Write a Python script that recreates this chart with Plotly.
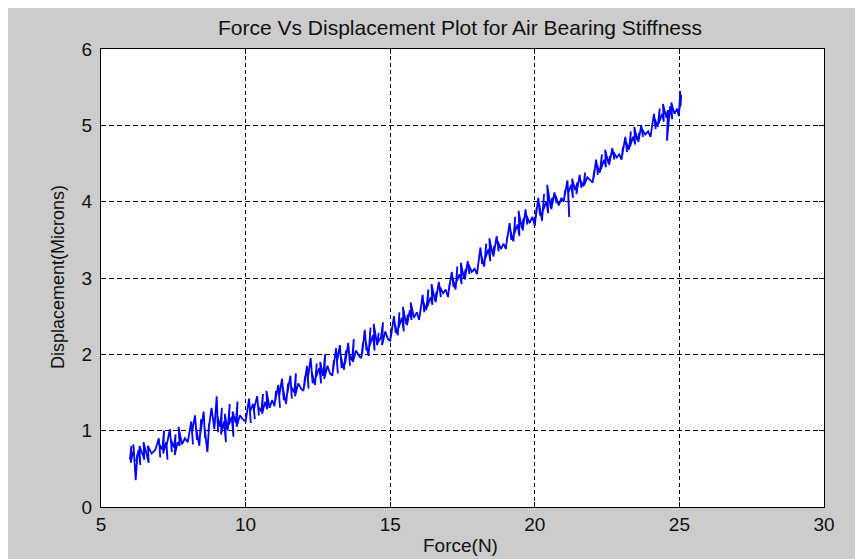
import plotly.graph_objects as go

# Force (N) values
force = [
    6.00, 6.05, 6.03, 6.10, 6.15, 6.12, 6.20, 6.26, 6.22, 6.30, 6.36, 6.33, 6.45, 6.50, 6.47, 6.58, 6.65, 6.62, 6.75, 6.88,
    7.00, 7.05, 7.02, 7.12, 7.18, 7.15, 7.25, 7.30, 7.27, 7.38, 7.45, 7.42, 7.52, 7.58, 7.55, 7.65, 7.72, 7.68, 7.80, 7.90,
    8.00, 8.06, 8.03, 8.12, 8.18, 8.15, 8.25, 8.32, 8.28, 8.40, 8.46, 8.43, 8.55, 8.60, 8.57, 8.68, 8.74, 8.71, 8.82, 8.92,
    9.00, 9.05, 9.02, 9.12, 9.18, 9.15, 9.25, 9.32, 9.28, 9.38, 9.45, 9.42, 9.52, 9.58, 9.55, 9.66, 9.72, 9.69, 9.80, 9.90,
    10.00, 10.06, 10.03, 10.12, 10.18, 10.15, 10.26, 10.32, 10.29, 10.40, 10.46, 10.43, 10.54, 10.60, 10.57, 10.68, 10.75, 10.72, 10.83, 10.92,
    11.00, 11.05, 11.02, 11.13, 11.19, 11.16, 11.26, 11.32, 11.29, 11.40, 11.47, 11.44, 11.55, 11.60, 11.57, 11.68, 11.74, 11.71, 11.82, 11.92,
    12.00, 12.06, 12.03, 12.12, 12.18, 12.15, 12.25, 12.32, 12.28, 12.40, 12.46, 12.43, 12.55, 12.61, 12.58, 12.68, 12.75, 12.72, 12.83, 12.92,
    13.00, 13.05, 13.02, 13.13, 13.19, 13.16, 13.26, 13.32, 13.29, 13.40, 13.47, 13.44, 13.55, 13.61, 13.58, 13.68, 13.74, 13.71, 13.82, 13.92,
    14.00, 14.06, 14.03, 14.12, 14.18, 14.15, 14.25, 14.32, 14.28, 14.40, 14.46, 14.43, 14.55, 14.60, 14.57, 14.68, 14.75, 14.72, 14.83, 14.92,
    15.00, 15.05, 15.02, 15.13, 15.19, 15.16, 15.26, 15.32, 15.29, 15.40, 15.47, 15.44, 15.55, 15.61, 15.58, 15.68, 15.74, 15.71, 15.82, 15.92,
    16.00, 16.06, 16.03, 16.12, 16.18, 16.15, 16.25, 16.32, 16.28, 16.40, 16.46, 16.43, 16.55, 16.60, 16.57, 16.68, 16.75, 16.72, 16.83, 16.92,
    17.00, 17.05, 17.02, 17.13, 17.19, 17.16, 17.26, 17.32, 17.29, 17.40, 17.47, 17.44, 17.55, 17.61, 17.58, 17.68, 17.74, 17.71, 17.82, 17.92,
    18.00, 18.06, 18.03, 18.12, 18.18, 18.15, 18.25, 18.32, 18.28, 18.40, 18.46, 18.43, 18.55, 18.60, 18.57, 18.68, 18.75, 18.72, 18.83, 18.92,
    19.00, 19.05, 19.02, 19.13, 19.19, 19.16, 19.26, 19.32, 19.29, 19.40, 19.47, 19.44, 19.55, 19.61, 19.58, 19.68, 19.74, 19.71, 19.82, 19.92,
    20.00, 20.06, 20.03, 20.12, 20.18, 20.15, 20.25, 20.32, 20.28, 20.40, 20.46, 20.43, 20.55, 20.60, 20.57, 20.68, 20.75, 20.72, 20.83, 20.92,
    21.00, 21.05, 21.02, 21.13, 21.19, 21.16, 21.26, 21.32, 21.29, 21.40, 21.47, 21.44, 21.55, 21.61, 21.58, 21.68, 21.74, 21.71, 21.82, 21.92,
    22.00, 22.06, 22.03, 22.12, 22.18, 22.15, 22.25, 22.32, 22.28, 22.40, 22.46, 22.43, 22.55, 22.60, 22.57, 22.68, 22.75, 22.72, 22.83, 22.92,
    23.00, 23.05, 23.02, 23.13, 23.19, 23.16, 23.26, 23.32, 23.29, 23.40, 23.47, 23.44, 23.55, 23.61, 23.58, 23.68, 23.74, 23.71, 23.82, 23.92,
    24.00, 24.06, 24.03, 24.12, 24.18, 24.15, 24.25, 24.32, 24.28, 24.40, 24.46, 24.43, 24.55, 24.60, 24.57, 24.68, 24.75, 24.72, 24.83, 24.92,
    24.98, 25.03, 25.00, 25.06, 25.04,
]

# Displacement (microns) values
displacement = [
    0.62, 0.80, 0.58, 0.72, 0.66, 0.82, 0.35, 0.70, 0.60, 0.75, 0.55, 0.80, 0.68, 0.62, 0.85, 0.66, 0.58, 0.80, 0.70, 0.75,
    0.90, 0.65, 0.82, 0.75, 1.00, 0.70, 0.85, 0.62, 0.80, 1.02, 0.72, 0.88, 0.78, 0.95, 0.68, 0.85, 0.80, 1.05, 0.82, 0.90,
    0.85, 1.02, 0.90, 1.12, 0.82, 0.98, 1.20, 0.88, 1.05, 0.80, 1.15, 0.95, 1.25, 0.90, 1.08, 0.72, 1.10, 0.98, 1.30, 1.02,
    1.45, 0.98, 1.20, 1.05, 1.30, 0.95, 1.12, 0.85, 1.22, 1.00, 1.35, 1.08, 1.18, 0.92, 1.25, 1.10, 1.38, 1.05, 1.20, 1.15,
    1.12, 1.30, 1.18, 1.42, 1.10, 1.25, 1.35, 1.15, 1.28, 1.45, 1.20, 1.32, 1.25, 1.48, 1.22, 1.38, 1.28, 1.52, 1.30, 1.40,
    1.32, 1.52, 1.38, 1.60, 1.30, 1.45, 1.68, 1.40, 1.55, 1.35, 1.62, 1.48, 1.72, 1.42, 1.58, 1.50, 1.75, 1.45, 1.62, 1.55,
    1.52, 1.72, 1.58, 1.85, 1.55, 1.68, 1.95, 1.62, 1.78, 1.60, 1.88, 1.70, 1.82, 1.62, 1.90, 1.72, 2.00, 1.68, 1.85, 1.75,
    1.72, 1.92, 1.78, 2.08, 1.75, 1.90, 2.12, 1.82, 1.98, 1.80, 2.05, 1.88, 2.15, 1.85, 2.00, 1.92, 2.20, 1.90, 2.05, 1.98,
    1.95, 2.15, 2.00, 2.32, 2.05, 2.18, 1.98, 2.35, 2.10, 2.25, 2.05, 2.40, 2.12, 2.28, 2.15, 2.22, 2.42, 2.12, 2.30, 2.20,
    2.18, 2.35, 2.22, 2.50, 2.28, 2.40, 2.25, 2.55, 2.35, 2.48, 2.30, 2.62, 2.40, 2.52, 2.38, 2.58, 2.45, 2.68, 2.48, 2.55,
    2.45, 2.62, 2.52, 2.78, 2.55, 2.68, 2.58, 2.85, 2.62, 2.75, 2.65, 2.92, 2.70, 2.82, 2.68, 2.95, 2.75, 2.88, 2.80, 2.85,
    2.75, 2.92, 2.82, 3.08, 2.88, 3.00, 2.85, 3.15, 2.95, 3.05, 2.92, 3.20, 3.00, 3.12, 2.98, 3.22, 3.05, 3.18, 3.08, 3.12,
    3.05, 3.22, 3.12, 3.40, 3.18, 3.30, 3.15, 3.45, 3.25, 3.38, 3.22, 3.52, 3.30, 3.42, 3.28, 3.55, 3.35, 3.48, 3.38, 3.45,
    3.38, 3.55, 3.45, 3.72, 3.50, 3.62, 3.48, 3.80, 3.58, 3.70, 3.55, 3.88, 3.65, 3.78, 3.62, 3.90, 3.70, 3.82, 3.72, 3.80,
    3.68, 3.92, 3.78, 4.05, 3.82, 3.98, 3.75, 4.10, 3.88, 4.00, 3.85, 4.22, 3.92, 4.05, 3.90, 4.12, 3.98, 4.08, 3.95, 4.05,
    4.00, 4.15, 4.05, 4.28, 3.80, 4.12, 4.22, 4.05, 4.30, 4.15, 4.25, 4.10, 4.35, 4.18, 4.28, 4.20, 4.38, 4.22, 4.32, 4.28,
    4.25, 4.42, 4.30, 4.55, 4.35, 4.48, 4.38, 4.62, 4.42, 4.55, 4.45, 4.68, 4.50, 4.60, 4.48, 4.70, 4.55, 4.65, 4.58, 4.62,
    4.55, 4.72, 4.60, 4.85, 4.65, 4.78, 4.68, 4.92, 4.72, 4.85, 4.75, 4.98, 4.80, 4.90, 4.78, 5.00, 4.85, 4.95, 4.88, 4.92,
    4.85, 5.02, 4.92, 5.15, 4.95, 5.08, 4.98, 5.22, 5.02, 5.15, 5.05, 5.28, 5.10, 5.20, 4.80, 5.25, 5.08, 5.30, 5.15, 5.22,
    5.12, 5.45, 5.20, 5.40, 5.25,
]

x_ticks = [5, 10, 15, 20, 25, 30]
y_ticks = [0, 1, 2, 3, 4, 5, 6]

title_text = "Force Vs Displacement Plot for Air Bearing Stiffness"
x_title = "Force(N)"
y_title = "Displacement(Microns)"

FONT = "Liberation Sans, Arial, sans-serif"
GRAY = "#cccccc"

# figure is drawn at page offset (8, 8); plot box in figure pixels
L, R, T, B = 93, 816, 41, 499
W, H = 863, 559
PW, PH = R - L, B - T

fig = go.Figure()
fig.add_trace(go.Scatter(
    x=force, y=displacement, mode="lines",
    line=dict(color="#0000ff", width=1.8),
    showlegend=False, hoverinfo="skip",
))

axis_common = dict(
    showline=True, linecolor="black", linewidth=1, mirror="ticks",
    ticks="inside", ticklen=5, tickcolor="black", tickwidth=1,
    showgrid=True, gridcolor="black", gridwidth=1,
    zeroline=False, automargin=False,
    tickfont=dict(family=FONT, size=19, color="#111111"),
)

fig.update_layout(
    width=W, height=H,
    margin=dict(l=L, r=W - R, t=T, b=H - B, autoexpand=False),
    paper_bgcolor=GRAY, plot_bgcolor="white",
    title=dict(text=title_text, x=452 / W, xanchor="center",
               y=1 - 20 / H, yanchor="middle", yref="container",
               font=dict(family=FONT, size=21, color="#111111")),
    xaxis=dict(range=[5, 30], tickvals=x_ticks, griddash="4px,3px", **axis_common),
    yaxis=dict(range=[0, 6], tickvals=y_ticks, griddash="5px,3px",
               ticklabelstandoff=4, **axis_common),
    annotations=[
        dict(text=x_title, xref="paper", yref="paper",
             x=(452 - L) / PW, y=(B - 537) / PH, xanchor="center", yanchor="middle",
             showarrow=False, font=dict(family=FONT, size=19, color="#111111")),
        dict(text=y_title, xref="paper", yref="paper", textangle=-90,
             x=(50 - L) / PW, y=(B - 269) / PH, xanchor="center", yanchor="middle",
             showarrow=False, font=dict(family=FONT, size=18, color="#111111")),
    ],
)

fig.write_html("out.html")
